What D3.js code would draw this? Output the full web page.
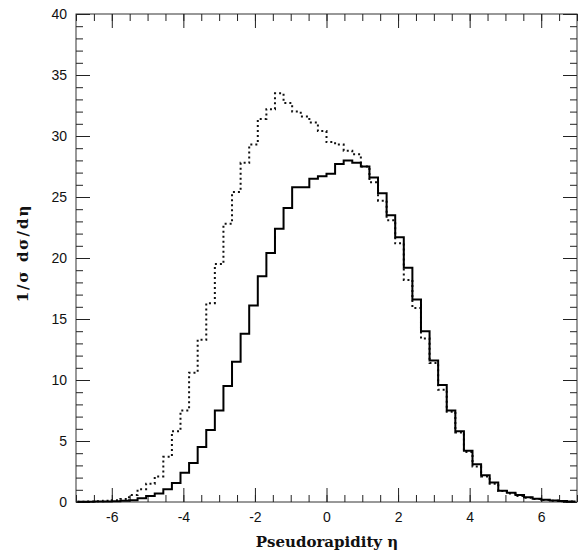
<!DOCTYPE html>
<html>
<head>
<meta charset="utf-8">
<script src="https://cdn.jsdelivr.net/npm/d3@7"></script>
<style>
  body { margin: 0; background: #fff; }
  svg { display: block; }
  .tick text { font-family: "Liberation Sans", Arial, sans-serif; font-size: 14px; fill: #111; }
  .tick line { stroke: #222; }
  .axis path.domain { display: none; }
  .title { font-family: "DejaVu Serif", serif; font-size: 15px; font-weight: bold; fill: #111; }
</style>
</head>
<body>
<svg width="581" height="552"></svg>
<script>
// histogram bins: 0.24 wide, first bin starts at -6.96
var binStart = -6.96,
    binWidth = 0.24;

// solid histogram, 1/sigma dsigma/deta per bin
var solid = [0.02, 0.03, 0.04, 0.05, 0.07, 0.1, 0.15, 0.3, 0.5, 0.7,
             1.05, 1.55, 2.4, 3.2, 4.5, 5.9, 7.5, 9.5, 11.5, 13.8,
             16.1, 18.5, 20.4, 22.4, 24.1, 25.8, 25.8, 26.5, 26.7, 26.9,
             27.7, 28.0, 27.8, 27.5, 26.6, 25.3, 23.5, 21.7, 19.2, 16.6,
             14.0, 11.6, 9.6, 7.5, 5.8, 4.2, 3.1, 2.2, 1.6, 0.93,
             0.76, 0.57, 0.38, 0.27, 0.18, 0.12, 0.08, 0.05];

// dotted histogram
var dotted = [0.03, 0.05, 0.07, 0.1, 0.15, 0.25, 0.57, 1.04, 1.5, 2.1,
              3.7, 5.8, 7.5, 10.6, 13.3, 16.3, 19.5, 22.8, 25.4, 27.8,
              29.3, 31.4, 32.2, 33.5, 32.7, 32.0, 31.6, 31.1, 30.4, 29.5,
              29.3, 28.8, 28.5, 27.5, 26.2, 24.7, 23.1, 21.2, 18.2, 15.9,
              13.4, 11.4, 9.2, 7.4, 5.7, 4.1, 2.9, 2.1, 1.5, 0.9,
              0.7, 0.5, 0.35, 0.25, 0.17, 0.11, 0.07, 0.04];

var xMajor = [-6, -4, -2, 0, 2, 4, 6];
var yMajor = [0, 5, 10, 15, 20, 25, 30, 35, 40];

var svg = d3.select("svg");
var plotL = 76, plotR = 577, plotT = 14, plotB = 502;

var x = d3.scaleLinear().domain([-7, 7]).range([plotL, plotR]);
var y = d3.scaleLinear().domain([0, 40]).range([plotB, plotT]);

var xMinor = d3.range(-7, 7.01, 0.5);
var yMinor = d3.range(0, 40.01, 1);

// frame
svg.append("rect")
    .attr("x", plotL).attr("y", plotT)
    .attr("width", plotR - plotL).attr("height", plotB - plotT)
    .attr("fill", "none").attr("stroke", "#333").attr("stroke-width", 1);

// minor ticks on all four sides
svg.append("g").attr("class", "axis").attr("transform", "translate(0," + plotB + ")")
    .call(d3.axisBottom(x).tickValues(xMinor).tickSize(-7).tickFormat(""));
svg.append("g").attr("class", "axis").attr("transform", "translate(0," + plotT + ")")
    .call(d3.axisTop(x).tickValues(xMinor).tickSize(-7).tickFormat(""));
svg.append("g").attr("class", "axis").attr("transform", "translate(" + plotL + ",0)")
    .call(d3.axisLeft(y).tickValues(yMinor).tickSize(-7).tickFormat(""));
svg.append("g").attr("class", "axis").attr("transform", "translate(" + plotR + ",0)")
    .call(d3.axisRight(y).tickValues(yMinor).tickSize(-7).tickFormat(""));

// major ticks with labels
svg.append("g").attr("class", "axis").attr("transform", "translate(0," + plotB + ")")
    .call(d3.axisBottom(x).tickValues(xMajor).tickSize(-14).tickPadding(10)
      .tickFormat(function(d) { return "" + d; }));
svg.append("g").attr("class", "axis").attr("transform", "translate(0," + plotT + ")")
    .call(d3.axisTop(x).tickValues(xMajor).tickSize(-14).tickFormat(""));
svg.append("g").attr("class", "axis").attr("transform", "translate(" + plotL + ",0)")
    .call(d3.axisLeft(y).tickValues(yMajor).tickSize(-14).tickPadding(9)
      .tickFormat(function(d) { return "" + d; }));
svg.append("g").attr("class", "axis").attr("transform", "translate(" + plotR + ",0)")
    .call(d3.axisRight(y).tickValues(yMajor).tickSize(-14).tickFormat(""));

// step histograms
function steps(vals) {
  var pts = vals.map(function(v, i) { return [binStart + i * binWidth, v]; });
  pts.push([binStart + vals.length * binWidth, vals[vals.length - 1]]);
  return pts;
}
var line = d3.line()
    .x(function(d) { return x(d[0]); })
    .y(function(d) { return y(d[1]); })
    .curve(d3.curveStepAfter);

svg.append("path")
    .datum(steps(dotted))
    .attr("d", line)
    .attr("fill", "none")
    .attr("stroke", "#111")
    .attr("stroke-width", 2)
    .attr("stroke-dasharray", "2,3");

svg.append("path")
    .datum(steps(solid))
    .attr("d", line)
    .attr("fill", "none")
    .attr("stroke", "#000")
    .attr("stroke-width", 2);

// axis titles
svg.append("text")
    .attr("class", "title")
    .attr("x", 327)
    .attr("y", 547)
    .attr("text-anchor", "middle")
    .text("Pseudorapidity \u03b7");

svg.append("text")
    .attr("class", "title")
    .attr("transform", "translate(28,253) rotate(-90)")
    .attr("text-anchor", "middle")
    .style("letter-spacing", "2px")
    .text("1/\u03c3 d\u03c3/d\u03b7");
</script>
</body>
</html>
